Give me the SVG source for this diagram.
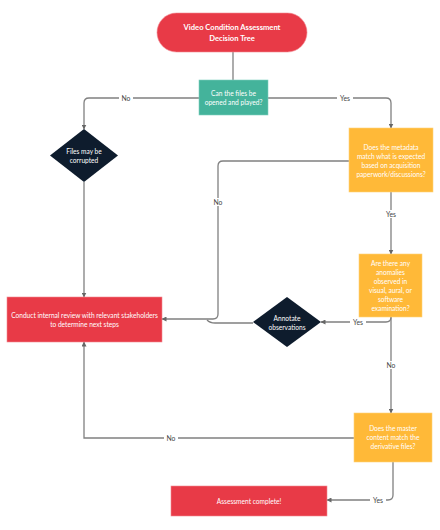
<svg xmlns="http://www.w3.org/2000/svg" width="440" height="530" viewBox="0 0 440 530">
<style>
.t{font-family:Lato,"Liberation Sans",sans-serif;font-size:6.6px;fill:#fff;text-anchor:middle}
.tb{font-family:Lato,"Liberation Sans",sans-serif;font-size:7.6px;font-weight:bold;fill:#fff;text-anchor:middle}
.l{font-family:Lato,"Liberation Sans",sans-serif;font-size:6.8px;fill:#444;text-anchor:middle}
.c{fill:none;stroke:#808080;stroke-width:1.3}
.red{fill:#E83A47;stroke:#f28a92;stroke-width:0.6}
.yel{fill:#FFB938;stroke:#ffd27a;stroke-width:0.6}
.grn{fill:#44B39B;stroke:#7fd1c0;stroke-width:0.6}
.nav{fill:#0E1C2D}
.bg{fill:#fff}
</style>
<defs>
<marker id="a" viewBox="0 0 10 10" refX="9" refY="5" markerWidth="5" markerHeight="5" orient="auto-start-reverse" markerUnits="userSpaceOnUse"><path d="M0,0 L10,5 L0,10 z" fill="#666"/></marker>
</defs>
<rect width="440" height="530" fill="#fff"/>
<g id="connectors">
<path class="c" d="M233,52 V80"/>
<path class="c" d="M199,98 H89 Q84,98 84,103 V129" marker-end="url(#a)"/>
<path class="c" d="M268,98 H386 Q391,98 391,103 V128" marker-end="url(#a)"/>
<path class="c" d="M84,182 V297" marker-end="url(#a)"/>
<path class="c" d="M391,192 V254" marker-end="url(#a)"/>
<path class="c" d="M349,161 H223 Q218,161 218,166 V314 Q218,319 213,319 H162" marker-end="url(#a)"/>
<path class="c" d="M253,323 H215 Q210,323 207,320"/>
<path class="c" d="M391,317 Q391,322 386,322 H321" marker-end="url(#a)"/>
<path class="c" d="M391,317 V413" marker-end="url(#a)"/>
<path class="c" d="M354,438 H84 V342" marker-end="url(#a)"/>
<path class="c" d="M393,462 V495 Q393,500 388,500 H327" marker-end="url(#a)"/>
<rect class="bg" x="119" y="94" width="14" height="8"/>
<text class="l" x="126" y="100.5">No</text>
<rect class="bg" x="337" y="94" width="16" height="8"/>
<text class="l" x="345" y="100.5">Yes</text>
<rect class="bg" x="383" y="210" width="16" height="8"/>
<text class="l" x="391" y="216.5">Yes</text>
<rect class="bg" x="211" y="198" width="14" height="8"/>
<text class="l" x="218" y="204.5">No</text>
<rect class="bg" x="350" y="318" width="16" height="8"/>
<text class="l" x="358" y="324.5">Yes</text>
<rect class="bg" x="384" y="361" width="14" height="8"/>
<text class="l" x="391" y="367.5">No</text>
<rect class="bg" x="164" y="434" width="14" height="8"/>
<text class="l" x="171" y="440.5">No</text>
<rect class="bg" x="370" y="496" width="16" height="8"/>
<text class="l" x="378" y="502.5">Yes</text>
</g>
<g id="start">
<rect class="red" x="157" y="13" width="150" height="39" rx="19.5"/>
<text class="tb" x="232" y="30">Video Condition Assessment</text>
<text class="tb" x="232" y="41">Decision Tree</text>
</g>
<g id="q-open">
<rect class="grn" x="199" y="80" width="69" height="35"/>
<text class="t" x="233.5" y="96">Can the files be</text>
<text class="t" x="233.5" y="105">opened and played?</text>
</g>
<g id="corrupted">
<polygon class="nav" points="84,129 118,155.5 84,182 50,155.5"/>
<text class="t" x="84" y="154">Files may be</text>
<text class="t" x="84" y="163">corrupted</text>
</g>
<g id="q-metadata">
<rect class="yel" x="349" y="128" width="84" height="64"/>
<text class="t" x="391" y="150">Does the metadata</text>
<text class="t" x="391" y="159">match what is expected</text>
<text class="t" x="391" y="168">based on acquisition</text>
<text class="t" x="391" y="177">paperwork/discussions?</text>
</g>
<g id="review">
<rect class="red" x="7" y="297" width="155" height="45"/>
<text class="t" x="84.5" y="317.5">Conduct internal review with relevant stakeholders</text>
<text class="t" x="84.5" y="326.5">to determine next steps</text>
</g>
<g id="annotate">
<polygon class="nav" points="287,297 321,322 287,347 253,322"/>
<text class="t" x="287" y="320.5">Annotate</text>
<text class="t" x="287" y="329.5">observations</text>
</g>
<g id="q-anomalies">
<rect class="yel" x="359" y="254" width="63" height="63"/>
<text class="t" x="390.5" y="266">Are there any</text>
<text class="t" x="390.5" y="275">anomalies</text>
<text class="t" x="390.5" y="284">observed in</text>
<text class="t" x="390.5" y="293">visual, aural, or</text>
<text class="t" x="390.5" y="302">software</text>
<text class="t" x="390.5" y="311">examination?</text>
</g>
<g id="q-master">
<rect class="yel" x="354" y="413" width="78" height="49"/>
<text class="t" x="393" y="431">Does the master</text>
<text class="t" x="393" y="440">content match the</text>
<text class="t" x="393" y="449">derivative files?</text>
</g>
<g id="complete">
<rect class="red" x="171" y="486" width="156" height="30"/>
<text class="t" x="249" y="503.5">Assessment complete!</text>
</g>
</svg>
